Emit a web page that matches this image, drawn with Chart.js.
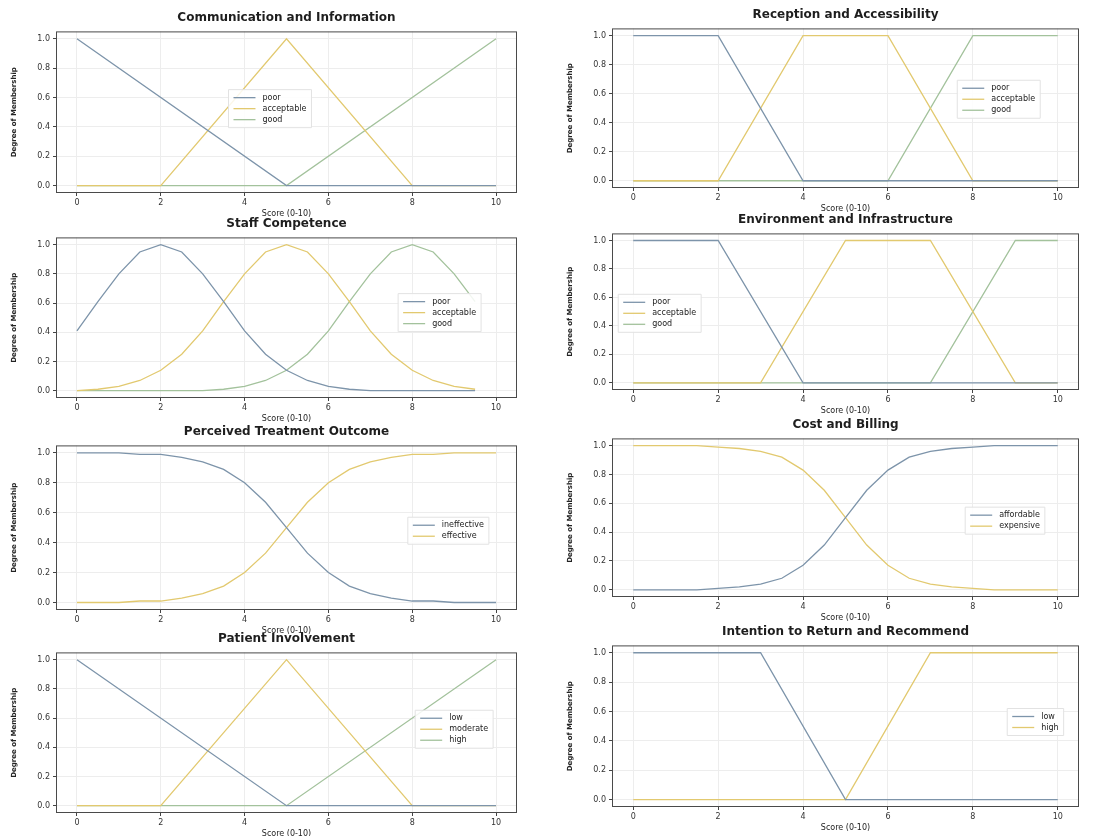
<!DOCTYPE html>
<html>
<head>
<meta charset="utf-8">
<script src="https://cdn.jsdelivr.net/npm/chart.js@4.4.0/dist/chart.umd.min.js"></script>
<style>
    html, body { margin: 0; padding: 0; background: #fff; }
    #page { position: relative; width: 1111px; height: 836px; overflow: hidden; background: #fff; }
    #page canvas { position: absolute; }
</style>
</head>
<body>
<div id="page"></div>
<script>
const xTicks = [0, 2, 4, 6, 8, 10];
const yTicks = [0, 0.2, 0.4, 0.6, 0.8, 1.0];
const lineColors = ['#7d94aa', '#e2c96f', '#a3c29c'];

// Communication and Information
const commLabels = ['poor', 'acceptable', 'good'];
const commPoorX = [0, 5, 10],        commPoorY = [1, 0, 0];
const commAccX = [0, 2, 5, 8, 10],   commAccY = [0, 0, 1, 0, 0];
const commGoodX = [0, 5, 10],        commGoodY = [0, 0, 1];

// Reception and Accessibility
const recLabels = ['poor', 'acceptable', 'good'];
const recPoorX = [0, 2, 4, 10],         recPoorY = [1, 1, 0, 0];
const recAccX = [0, 2, 4, 6, 8, 10],    recAccY = [0, 0, 1, 1, 0, 0];
const recGoodX = [0, 6, 8, 10],         recGoodY = [0, 0, 1, 1];

// Staff Competence
const staffLabels = ['poor', 'acceptable', 'good'];
const staffX = [0, 0.5, 1, 1.5, 2, 2.5, 3, 3.5, 4, 4.5, 5, 5.5, 6, 6.5, 7, 7.5, 8, 8.5, 9, 9.5];
const staffPoor = [0.41, 0.61, 0.80, 0.95, 1.00, 0.95, 0.80, 0.61, 0.41, 0.25, 0.14, 0.07, 0.03, 0.01, 0.00, 0.00, 0.00, 0.00, 0.00, 0.00];
const staffAcc  = [0.00, 0.01, 0.03, 0.07, 0.14, 0.25, 0.41, 0.61, 0.80, 0.95, 1.00, 0.95, 0.80, 0.61, 0.41, 0.25, 0.14, 0.07, 0.03, 0.01];
const staffGood = [0.00, 0.00, 0.00, 0.00, 0.00, 0.00, 0.00, 0.01, 0.03, 0.07, 0.14, 0.25, 0.41, 0.61, 0.80, 0.95, 1.00, 0.95, 0.80, 0.61];

// Environment and Infrastructure
const envLabels = ['poor', 'acceptable', 'good'];
const envPoorX = [0, 2, 4, 10],         envPoorY = [1, 1, 0, 0];
const envAccX = [0, 3, 5, 7, 9, 10],    envAccY = [0, 0, 1, 1, 0, 0];
const envGoodX = [0, 7, 9, 10],         envGoodY = [0, 0, 1, 1];

// Perceived Treatment Outcome
const outLabels = ['ineffective', 'effective'];
const outX = [0, 0.5, 1, 1.5, 2, 2.5, 3, 3.5, 4, 4.5, 5, 5.5, 6, 6.5, 7, 7.5, 8, 8.5, 9, 9.5, 10];
const outIneffective = [1.00, 1.00, 1.00, 0.99, 0.99, 0.97, 0.94, 0.89, 0.80, 0.67, 0.50, 0.33, 0.20, 0.11, 0.06, 0.03, 0.01, 0.01, 0.00, 0.00, 0.00];
const outEffective   = [0.00, 0.00, 0.00, 0.01, 0.01, 0.03, 0.06, 0.11, 0.20, 0.33, 0.50, 0.67, 0.80, 0.89, 0.94, 0.97, 0.99, 0.99, 1.00, 1.00, 1.00];

// Cost and Billing
const costLabels = ['affordable', 'expensive'];
const costX = [0, 0.5, 1, 1.5, 2, 2.5, 3, 3.5, 4, 4.5, 5, 5.5, 6, 6.5, 7, 7.5, 8, 8.5, 9, 9.5, 10];
const costAffordable = [0.00, 0.00, 0.00, 0.00, 0.01, 0.02, 0.04, 0.08, 0.17, 0.31, 0.50, 0.69, 0.83, 0.92, 0.96, 0.98, 0.99, 1.00, 1.00, 1.00, 1.00];
const costExpensive  = [1.00, 1.00, 1.00, 1.00, 0.99, 0.98, 0.96, 0.92, 0.83, 0.69, 0.50, 0.31, 0.17, 0.08, 0.04, 0.02, 0.01, 0.00, 0.00, 0.00, 0.00];

// Patient Involvement
const invLabels = ['low', 'moderate', 'high'];
const invLowX = [0, 5, 10],          invLowY = [1, 0, 0];
const invModX = [0, 2, 5, 8, 10],    invModY = [0, 0, 1, 0, 0];
const invHighX = [0, 5, 10],         invHighY = [0, 0, 1];

// Intention to Return and Recommend
const retLabels = ['low', 'high'];
const retLowX = [0, 3, 5, 10],       retLowY = [1, 1, 0, 0];
const retHighX = [0, 5, 7, 10],      retHighY = [0, 0, 1, 1];

function pts(xs, ys) {
    return xs.map((x, i) => ({ x: x, y: ys[i] }));
}

// layout constants
const padL = 2, yW = 46, padR = 4, titleH = 22.4, xH = 26;

const panels = [
    { title: 'Communication and Information', area: [56, 31, 517, 193], legend: [0.385, 0.41],
      labels: commLabels, series: [pts(commPoorX, commPoorY), pts(commAccX, commAccY), pts(commGoodX, commGoodY)] },
    { title: 'Reception and Accessibility', area: [612, 28, 1079, 188], legend: [0.75, 0.375],
      labels: recLabels, series: [pts(recPoorX, recPoorY), pts(recAccX, recAccY), pts(recGoodX, recGoodY)] },
    { title: 'Staff Competence', area: [56, 237, 517, 398], legend: [0.753, 0.40],
      labels: staffLabels, series: [pts(staffX, staffPoor), pts(staffX, staffAcc), pts(staffX, staffGood)] },
    { title: 'Environment and Infrastructure', area: [612, 233, 1079, 390], legend: [0.024, 0.44],
      labels: envLabels, series: [pts(envPoorX, envPoorY), pts(envAccX, envAccY), pts(envGoodX, envGoodY)] },
    { title: 'Perceived Treatment Outcome', area: [56, 445, 517, 610], legend: [0.774, 0.485],
      labels: outLabels, series: [pts(outX, outIneffective), pts(outX, outEffective)] },
    { title: 'Cost and Billing', area: [612, 438, 1079, 597], legend: [0.767, 0.484],
      labels: costLabels, series: [pts(costX, costAffordable), pts(costX, costExpensive)] },
    { title: 'Patient Involvement', area: [56, 652, 517, 813], legend: [0.79, 0.41],
      labels: invLabels, series: [pts(invLowX, invLowY), pts(invModX, invModY), pts(invHighX, invHighY)] },
    { title: 'Intention to Return and Recommend', area: [612, 645, 1079, 807], legend: [0.857, 0.44],
      labels: retLabels, series: [pts(retLowX, retLowY), pts(retHighX, retHighY)] }
];

// box around the axes, like matplotlib spines
const frame = {
    id: 'frame',
    afterDraw(chart) {
        const a = chart.chartArea, ctx = chart.ctx;
        ctx.save();
        ctx.strokeStyle = '#4a4a4a';
        ctx.lineWidth = 1;
        ctx.strokeRect(a.left + 0.5, a.top + 0.5, a.right - a.left - 1, a.bottom - a.top - 1);
        ctx.restore();
    }
};

// legend drawn inside the plot area
const insideLegend = {
    id: 'insideLegend',
    afterDatasetsDraw(chart, args, opts) {
        const a = chart.chartArea, ctx = chart.ctx;
        const x0 = a.left + opts.fx * (a.right - a.left);
        const y0 = a.top + opts.fy * (a.bottom - a.top);
        const rowH = 11;
        ctx.save();
        ctx.font = '8px "DejaVu Sans"';
        ctx.textBaseline = 'middle';
        let maxW = 0;
        chart.data.datasets.forEach(ds => { maxW = Math.max(maxW, ctx.measureText(ds.label).width); });
        const n = chart.data.datasets.length;
        ctx.fillStyle = 'rgba(255,255,255,0.85)';
        ctx.strokeStyle = '#e2e2e2';
        ctx.lineWidth = 1;
        ctx.beginPath();
        ctx.rect(x0 - 5, y0 - 8, 29 + maxW + 10, n * rowH + 5);
        ctx.fill();
        ctx.stroke();
        chart.data.datasets.forEach((ds, i) => {
            const y = y0 + i * rowH;
            ctx.strokeStyle = ds.borderColor;
            ctx.lineWidth = 1.3;
            ctx.beginPath();
            ctx.moveTo(x0, y);
            ctx.lineTo(x0 + 22, y);
            ctx.stroke();
            ctx.fillStyle = '#222';
            ctx.fillText(ds.label, x0 + 29, y);
        });
        ctx.restore();
    }
};

const page = document.getElementById('page');

panels.forEach(p => {
    const [l, t, r, b] = p.area;
    const canvas = document.createElement('canvas');
    const w = Math.round(padL + yW + (r - l) + padR);
    const h = Math.round(titleH + (b - t) + xH);
    canvas.width = w;
    canvas.height = h;
    canvas.style.width = w + 'px';
    canvas.style.height = h + 'px';
    canvas.style.left = Math.round(l - yW - padL) + 'px';
    canvas.style.top = Math.round(t - titleH) + 'px';
    page.appendChild(canvas);

    new Chart(canvas.getContext('2d'), {
        type: 'line',
        data: {
            datasets: p.series.map((s, i) => ({
                label: p.labels[i],
                data: s,
                borderColor: lineColors[i],
                backgroundColor: lineColors[i],
                borderWidth: 1.3,
                pointRadius: 0,
                fill: false,
                tension: 0
            }))
        },
        options: {
            responsive: false,
            animation: false,
            layout: { padding: { left: padL, right: padR, top: 0, bottom: 0 } },
            plugins: {
                legend: { display: false },
                tooltip: { enabled: false },
                title: {
                    display: true,
                    text: p.title,
                    fullSize: false,
                    color: '#1e1e1e',
                    font: { family: 'DejaVu Sans', size: 12, weight: 'bold' },
                    padding: { top: 2, bottom: 6 }
                },
                insideLegend: { fx: p.legend[0], fy: p.legend[1] }
            },
            scales: {
                x: {
                    type: 'linear',
                    min: -0.5,
                    max: 10.5,
                    afterBuildTicks: s => { s.ticks = xTicks.map(v => ({ value: v })); },
                    afterFit: s => { s.height = xH; },
                    border: { display: false },
                    grid: { color: '#ededed', tickColor: '#444', tickLength: 3 },
                    ticks: {
                        autoSkip: false, maxRotation: 0, padding: 2, color: '#333',
                        font: { family: 'DejaVu Sans', size: 8 },
                        callback: v => String(v)
                    },
                    title: {
                        display: true, text: 'Score (0-10)', color: '#222',
                        font: { family: 'DejaVu Sans', size: 8 },
                        padding: { top: 1, bottom: 0 }
                    }
                },
                y: {
                    min: -0.05,
                    max: 1.05,
                    afterBuildTicks: s => { s.ticks = yTicks.map(v => ({ value: v })); },
                    afterFit: s => { s.width = yW; },
                    border: { display: false },
                    grid: { color: '#ededed', tickColor: '#444', tickLength: 3 },
                    ticks: {
                        autoSkip: false, padding: 3, color: '#333',
                        font: { family: 'DejaVu Sans', size: 8 },
                        callback: v => v.toFixed(1)
                    },
                    title: {
                        display: true, text: 'Degree of Membership', color: '#222',
                        font: { family: 'DejaVu Sans', size: 7, weight: 'bold' },
                        padding: { top: 0, bottom: 2 }
                    }
                }
            }
        },
        plugins: [frame, insideLegend]
    });
});
</script>
</body>
</html>
